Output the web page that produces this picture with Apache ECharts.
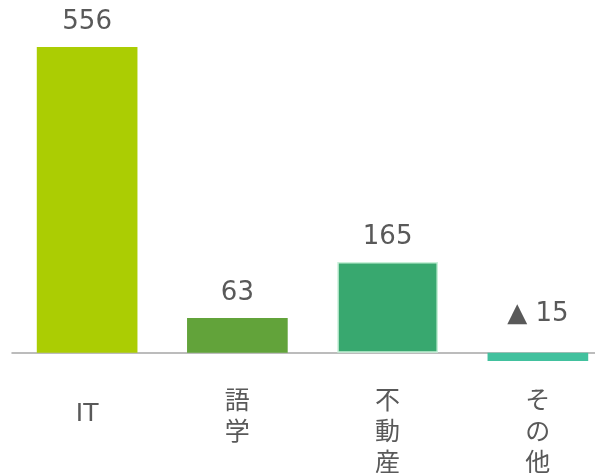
<!DOCTYPE html>
<html>
<head>
<meta charset="utf-8">
<script src="https://cdn.jsdelivr.net/npm/echarts@6/dist/echarts.min.js"></script>
<style>
  html, body { margin: 0; padding: 0; background: #fff; }
  #main { width: 595px; height: 473px; }
</style>
</head>
<body>
<div id="main"></div>
<script>
const categories = ['IT', '語学', '不動産', 'その他']
const values = [556, 63, 165, -15]
const barColors = ['#abcd03', '#62a33a', '#38a86f', '#42c19e']

const FONT = "'DejaVu Sans', 'Noto Sans CJK JP', sans-serif"

var myChart = echarts.init(document.getElementById('main'))

var option = {
  animation: false,
  grid: { left: 12, right: -18, top: 47, height: 314, outerBoundsMode: 'none', containLabel: false },
  xAxis: {
    type: 'category',
    data: categories.map((c, i) => ({
      value: c,
      textStyle: i === 0 ? { padding: [12, 0, 0, 0] } : {}
    })),
    axisLine: { onZero: true, lineStyle: { color: '#a6a6a6', width: 1.5 } },
    axisTick: { show: false },
    axisLabel: {
      interval: 0,
      margin: 26,
      verticalAlign: 'top',
      color: '#595959',
      fontFamily: FONT,
      fontSize: 25,
      lineHeight: 31,
      formatter: v => (v.length > 1 && v !== 'IT') ? v.split('').join('\n') : v
    }
  },
  yAxis: {
    type: 'value',
    min: -15,
    max: 556,
    show: false,
    splitLine: { show: false }
  },
  series: [
    {
      type: 'bar',
      barCategoryGap: '33%',
      data: values.map((v, i) => ({
        value: v,
        itemStyle: {
          color: barColors[i],
          borderColor: i === 2 ? '#c8f0d8' : barColors[i],
          borderWidth: i === 2 ? 1.5 : 0
        },
        label: { distance: v < 0 ? 26 : 12 }
      })),
      label: {
        show: true,
        position: 'top',
        color: '#595959',
        fontFamily: FONT,
        fontSize: 26,
        formatter: p => p.value < 0 ? '▲ ' + Math.abs(p.value) : String(p.value)
      }
    }
  ]
}

myChart.setOption(option)
</script>
</body>
</html>
